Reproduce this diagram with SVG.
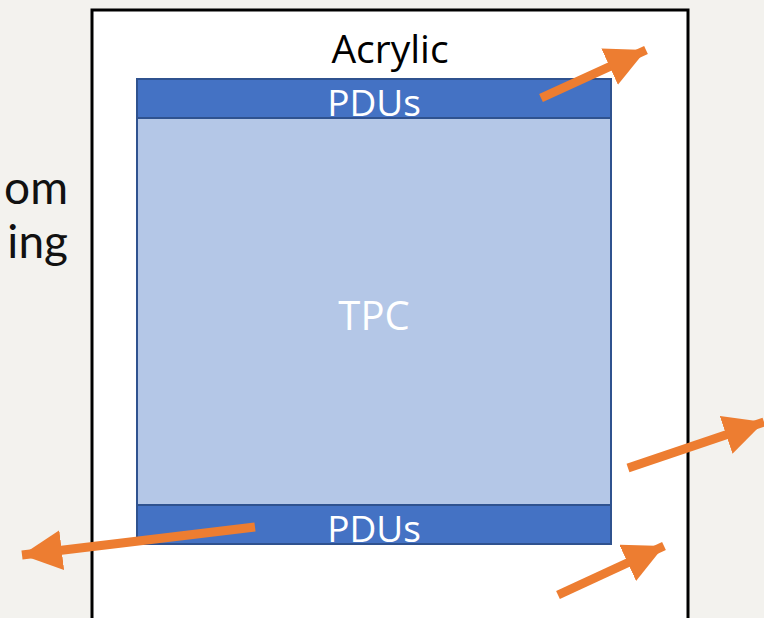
<svg xmlns="http://www.w3.org/2000/svg" width="764" height="618" viewBox="0 0 764 618">
<defs>
<style>
.lbl{font-family:"Open Sans","Liberation Sans",sans-serif;text-anchor:middle}
.side{font-family:"Lato","Liberation Sans",sans-serif;font-size:46px;fill:#111;text-anchor:end}
.pdu{fill:#4472c4;stroke:#2f528f;stroke-width:2}
.arr{stroke:#ed7d31;stroke-width:9;fill:none;marker-end:url(#ah)}
</style>
<marker id="ah" markerUnits="userSpaceOnUse" markerWidth="40" markerHeight="40" refX="32" refY="16" orient="auto" viewBox="0 0 32 32">
<path d="M0,0 L32,16 L0,32 Z" fill="#ed7d31"/>
</marker>
</defs>
<rect x="0" y="0" width="764" height="618" fill="#f3f2ee"/>
<text class="side" x="68" y="204">om</text>
<text class="side" x="68" y="258">ing</text>
<g id="acrylic">
<rect x="92" y="10" width="596" height="620" fill="#fff" stroke="#000" stroke-width="3"/>
<text class="lbl" x="390" y="63" font-size="39" fill="#000">Acrylic</text>
</g>
<g id="tpc">
<rect x="137" y="118" width="474" height="387" fill="#b4c7e7" stroke="#2f528f" stroke-width="2"/>
<text class="lbl" x="374" y="330" font-size="40" fill="#fff">TPC</text>
</g>
<g id="pdu-top">
<rect class="pdu" x="137" y="79" width="474" height="39"/>
<text class="lbl" x="374" y="116" font-size="37" fill="#fff">PDUs</text>
</g>
<g id="pdu-bottom">
<rect class="pdu" x="137" y="505" width="474" height="39"/>
<text class="lbl" x="374" y="542" font-size="37" fill="#fff">PDUs</text>
</g>
<g id="connectors">
<line class="arr" x1="541" y1="98" x2="646" y2="50"/>
<line class="arr" x1="628" y1="468" x2="764" y2="422"/>
<line class="arr" x1="558" y1="595" x2="664" y2="546"/>
<line class="arr" x1="255" y1="527" x2="22" y2="555"/>
</g>
</svg>
